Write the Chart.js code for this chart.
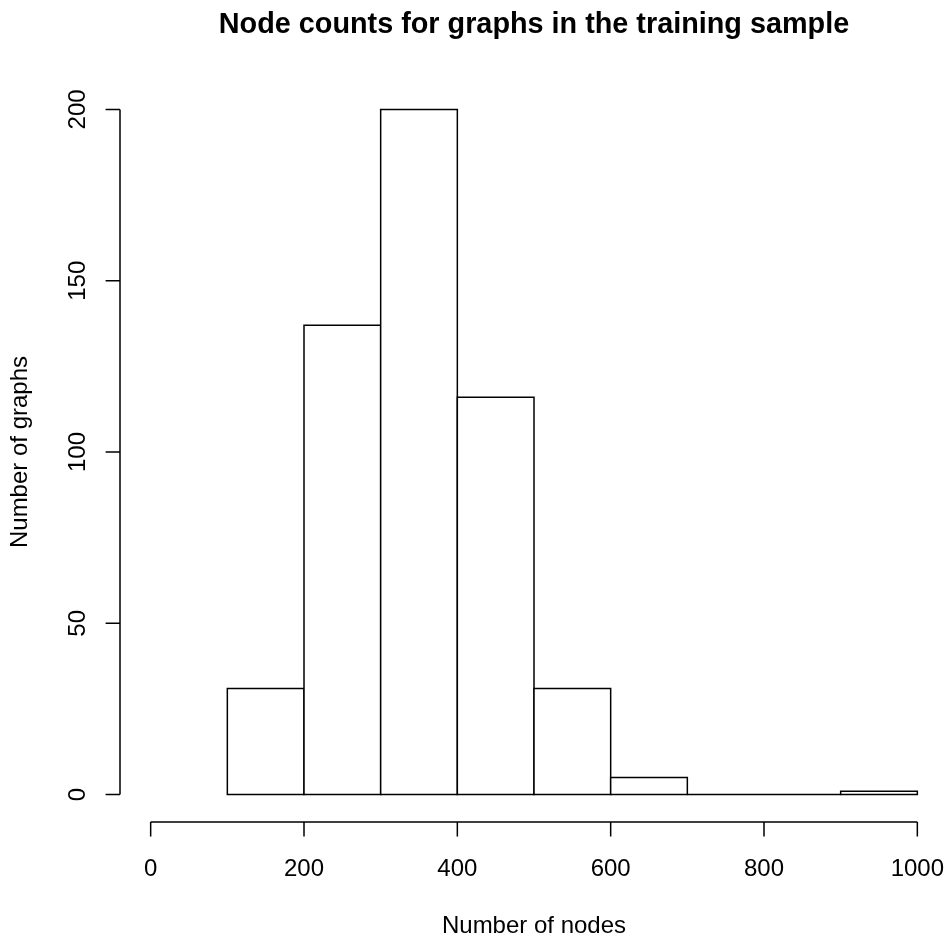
<!DOCTYPE html>
<html>
<head>
<meta charset="utf-8">
<title>Node counts for graphs in the training sample</title>
<script src="https://cdn.jsdelivr.net/npm/chart.js@4.4.1/dist/chart.umd.min.js"></script>
<style>
    html, body { margin: 0; padding: 0; background: #ffffff; }
    canvas { display: block; }
</style>
</head>
<body>
<canvas id="histChart" width="948" height="936"></canvas>
<script>
// -------------------------------
// Datos del histograma
// -------------------------------
const binLefts  = [100, 200, 300, 400, 500, 600, 700, 800, 900];
const binWidth  = 100;
const counts    = [31, 137, 200, 116, 31, 5, 0, 0, 1];

const xTicks = [0, 200, 400, 600, 800, 1000];
const yTicks = [0, 50, 100, 150, 200];

const titulo  = "Node counts for graphs in the training sample";
const xTitulo = "Number of nodes";
const yTitulo = "Number of graphs";

const FUENTE = '"Liberation Sans", Arial, Helvetica, sans-serif';
const GROSOR = 1.5;
const TICK_LEN = 14.4;

// -------------------------------
// Plugin: barras estilo R (rectangulos con borde)
// -------------------------------
const barrasR = {
    id: "barrasR",
    afterDatasetsDraw(chart) {
        const { ctx } = chart;
        const meta = chart.getDatasetMeta(0);
        ctx.save();
        ctx.lineWidth = GROSOR;
        ctx.strokeStyle = "#000000";
        ctx.fillStyle = "#ffffff";
        meta.data.forEach(bar => {
            const { x, y, base, width } = bar.getProps(["x", "y", "base", "width"], true);
            const izq = x - width / 2;
            ctx.beginPath();
            ctx.rect(izq, y, width, base - y);
            ctx.fill();
            ctx.stroke();
        });
        ctx.restore();
    }
};

// -------------------------------
// Plugin: ejes, etiquetas y titulo
// -------------------------------
const ejesR = {
    id: "ejesR",
    afterDraw(chart) {
        const { ctx, chartArea } = chart;
        const sx = chart.scales.x;
        const sy = chart.scales.y;

        ctx.save();
        ctx.lineWidth = GROSOR;
        ctx.strokeStyle = "#000000";
        ctx.fillStyle = "#000000";

        // eje X
        const yEje = chartArea.bottom;
        ctx.beginPath();
        ctx.moveTo(sx.getPixelForValue(xTicks[0]), yEje);
        ctx.lineTo(sx.getPixelForValue(xTicks[xTicks.length - 1]), yEje);
        xTicks.forEach(v => {
            const px = sx.getPixelForValue(v);
            ctx.moveTo(px, yEje);
            ctx.lineTo(px, yEje + TICK_LEN);
        });
        ctx.stroke();

        ctx.font = "24px " + FUENTE;
        ctx.textAlign = "center";
        ctx.textBaseline = "alphabetic";
        xTicks.forEach(v => {
            ctx.fillText(String(v), sx.getPixelForValue(v), 876);
        });

        // eje Y
        const xEje = chartArea.left;
        ctx.beginPath();
        ctx.moveTo(xEje, sy.getPixelForValue(yTicks[0]));
        ctx.lineTo(xEje, sy.getPixelForValue(yTicks[yTicks.length - 1]));
        yTicks.forEach(v => {
            const py = sy.getPixelForValue(v);
            ctx.moveTo(xEje, py);
            ctx.lineTo(xEje - TICK_LEN, py);
        });
        ctx.stroke();

        yTicks.forEach(v => {
            ctx.save();
            ctx.translate(85, sy.getPixelForValue(v));
            ctx.rotate(-Math.PI / 2);
            ctx.fillText(String(v), 0, 0);
            ctx.restore();
        });

        // titulos de ejes
        const centroX = (chartArea.left + chartArea.right) / 2;
        const centroY = (chartArea.top + chartArea.bottom) / 2;
        ctx.fillText(xTitulo, centroX, 933);

        ctx.save();
        ctx.translate(27, centroY);
        ctx.rotate(-Math.PI / 2);
        ctx.fillText(yTitulo, 0, 0);
        ctx.restore();

        // titulo principal
        ctx.font = "bold 28.8px " + FUENTE;
        ctx.fillText(titulo, centroX, 33);

        ctx.restore();
    }
};

// -------------------------------
// Grafico
// -------------------------------
const ctx = document.getElementById("histChart").getContext("2d");

new Chart(ctx, {
    type: "bar",
    data: {
        datasets: [{
            data: binLefts.map((b, i) => ({ x: b + binWidth / 2, y: counts[i] })),
            backgroundColor: "rgba(0,0,0,0)",
            borderWidth: 0,
            barPercentage: 1,
            categoryPercentage: 1
        }]
    },
    options: {
        responsive: false,
        devicePixelRatio: 1,
        animation: false,
        layout: {
            padding: { left: 120, right: 0, top: 82, bottom: 114 }
        },
        scales: {
            x: {
                type: "linear",
                display: false,
                offset: false,
                min: -40,
                max: 1040,
                grid: { display: false }
            },
            y: {
                type: "linear",
                display: false,
                min: -8,
                max: 208,
                grid: { display: false }
            }
        },
        plugins: {
            legend: { display: false },
            title: { display: false },
            tooltip: { enabled: false }
        }
    },
    plugins: [barrasR, ejesR]
});
</script>
</body>
</html>
